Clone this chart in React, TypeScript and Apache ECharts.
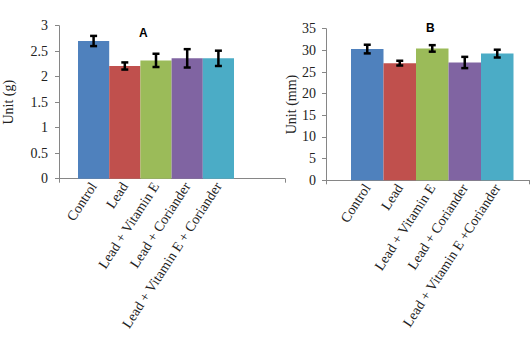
import React, { useEffect, useRef } from "react";
import * as echarts from "echarts";

const categoriesA = ["Control", "Lead", "Lead + Vitamin E", "Lead + Coriander", "Lead + Vitamin E + Coriander"];
const categoriesB = ["Control", "Lead", "Lead + Vitamin E", "Lead + Coriander", "Lead + Vitamin E +Coriander"];
const valuesA = [2.7, 2.21, 2.32, 2.36, 2.36];
const errorsA = [0.1, 0.07, 0.13, 0.18, 0.15];
const valuesB = [30.3, 27.05, 30.45, 27.2, 29.25];
const errorsB = [1.0, 0.55, 0.75, 1.3, 0.9];
const barColors = ["#4F81BD", "#C0504D", "#9BBB59", "#8064A2", "#4BACC6"];

const serif = "'Liberation Serif', 'Times New Roman', serif";
const axisGray = "#868686";

function errorSeries(values: number[], errors: number[], idx: number) {
  return {
    type: "custom",
    xAxisIndex: idx,
    yAxisIndex: idx,
    z: 10,
    data: values.map((v, i) => [i, v - errors[i], v + errors[i]]),
    renderItem: (params: any, api: any) => {
      const x = api.value(0);
      const lo = api.coord([x, api.value(1)]);
      const hi = api.coord([x, api.value(2)]);
      const hw = 3.5;
      const style = { stroke: "#000", lineWidth: 2.5 };
      return {
        type: "group",
        children: [
          { type: "line", shape: { x1: lo[0], y1: lo[1], x2: hi[0], y2: hi[1] }, style },
          { type: "line", shape: { x1: hi[0] - hw, y1: hi[1], x2: hi[0] + hw, y2: hi[1] }, style },
          { type: "line", shape: { x1: lo[0] - hw, y1: lo[1], x2: lo[0] + hw, y2: lo[1] }, style },
        ],
      };
    },
  };
}

export default function App() {
  const ref = useRef<HTMLDivElement>(null);
  useEffect(() => {
    if (!ref.current) return;
    const chart = echarts.init(ref.current, null, { renderer: "svg" });
    const frameX = (gi: number) => ({
      type: "value",
      gridIndex: gi,
      min: 0,
      max: 1,
      interval: 1,
      axisLine: { show: true, onZero: false, lineStyle: { color: axisGray, width: 1 } },
      axisTick: { show: true, inside: false, length: 4, lineStyle: { color: axisGray } },
      axisLabel: { show: false },
      splitLine: { show: false },
    });
    const frameY = (gi: number, max: number, interval: number, name: string, nameGap: number, margin: number) => ({
      type: "value",
      gridIndex: gi,
      min: 0,
      max,
      interval,
      name,
      nameLocation: "middle",
      nameRotate: 90,
      nameGap,
      nameTextStyle: { fontFamily: serif, fontSize: 14, color: "#222" },
      axisLine: { show: true, lineStyle: { color: axisGray, width: 1 } },
      axisTick: { show: true, inside: false, length: 4, lineStyle: { color: axisGray } },
      axisLabel: { fontFamily: serif, fontSize: 14, color: "#222", margin },
      splitLine: { show: false },
    });
    const barX = (gi: number, cats: string[]) => ({
      type: "category",
      gridIndex: gi,
      data: cats,
      axisLine: { show: false },
      axisTick: { show: false },
      axisLabel: { rotate: 57, fontFamily: serif, fontSize: 14, color: "#222", margin: 5, interval: 0 },
    });
    const barY = (gi: number, max: number) => ({
      type: "value",
      gridIndex: gi,
      min: 0,
      max,
      show: false,
    });
    chart.setOption({
      animation: false,
      backgroundColor: "#fff",
      grid: [
        { left: 59, top: 25.7, width: 226, height: 153 },
        { left: 78, top: 25.7, width: 156, height: 153 },
        { left: 326, top: 28.7, width: 203.5, height: 151.6 },
        { left: 351, top: 28.7, width: 162.5, height: 151.6 },
      ],
      xAxis: [frameX(0), barX(1, categoriesA), frameX(2), barX(3, categoriesB)],
      yAxis: [
        frameY(0, 3, 0.5, "Unit (g)", 44, 11),
        barY(1, 3),
        frameY(2, 35, 5, "Unit (mm)", 28, 10),
        barY(3, 35),
      ],
      graphic: [
        { type: "text", left: 139, top: 27, style: { text: "A", font: "bold 12px 'Liberation Sans', Arial, sans-serif", fill: "#000" } },
        { type: "text", left: 426, top: 22, style: { text: "B", font: "bold 12px 'Liberation Sans', Arial, sans-serif", fill: "#000" } },
      ],
      series: [
        {
          type: "bar",
          xAxisIndex: 1,
          yAxisIndex: 1,
          barWidth: "100%",
          data: valuesA.map((v, i) => ({ value: v, itemStyle: { color: barColors[i] } })),
        },
        errorSeries(valuesA, errorsA, 1),
        {
          type: "bar",
          xAxisIndex: 3,
          yAxisIndex: 3,
          barWidth: "100%",
          data: valuesB.map((v, i) => ({ value: v, itemStyle: { color: barColors[i] } })),
        },
        errorSeries(valuesB, errorsB, 3),
      ],
    });
    return () => chart.dispose();
  }, []);
  return <div ref={ref} style={{ width: 530, height: 343, position: "absolute", left: 0, top: 0 }} />;
}
